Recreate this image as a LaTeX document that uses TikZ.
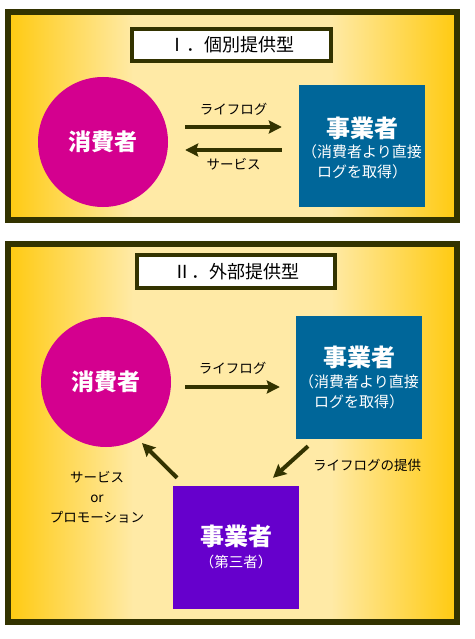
\documentclass[tikz,border=0pt]{standalone}
\usepackage{fontspec}
\setmainfont{Noto Sans CJK JP}
\usetikzlibrary{arrows.meta}
\definecolor{dark}{HTML}{333300}
\definecolor{goldedge}{HTML}{FFCA10}
\definecolor{goldmid}{HTML}{FFEAA6}
\definecolor{cmag}{HTML}{D4008F}
\definecolor{cblue}{HTML}{006699}
\definecolor{cpurple}{HTML}{6600CC}
\pgfdeclarehorizontalshading{panelshade}{100bp}{color(0bp)=(goldedge); color(25bp)=(goldedge); color(39bp)=(goldmid); color(61bp)=(goldmid); color(75bp)=(goldedge); color(100bp)=(goldedge)}
\tikzset{
  panel/.style={draw=dark,line width=6pt,shading=panelshade},
  titlebox/.style={draw=dark,line width=4pt,fill=white,inner sep=0pt,font=\fontsize{18}{22}\selectfont},
  consumer/.style={circle,fill=cmag,minimum size=130pt,inner sep=0pt,text=white,font=\bfseries\fontsize{23}{28}\selectfont},
  bizbox/.style={rectangle,fill=cblue,minimum width=126pt,minimum height=122pt,inner sep=0pt},
  thirdbox/.style={rectangle,fill=cpurple,minimum width=126pt,minimum height=123pt,inner sep=0pt},
  bigtxt/.style={text=white,inner sep=0pt,font=\bfseries\fontsize{24}{28}\selectfont},
  subtxt/.style={text=white,inner sep=0pt,align=center,font=\fontsize{15}{20}\selectfont},
  lbl/.style={inner sep=0pt,align=center,font=\fontsize{13.5}{20}\selectfont},
  arr/.style={draw=dark,line width=4pt,-{Stealth[length=13pt,width=13pt,inset=2pt]}}
}
\begin{document}
\begin{tikzpicture}[x=1pt,y=-1pt]
\useasboundingbox (0,0) rectangle (474,639);
\fill[white] (0,0) rectangle (474,639);
% ---- Panel I ----
\shade[panel] (7.5,12) rectangle (456.5,220);
\draw[dark,line width=6pt] (7.5,12) rectangle (456.5,220);
\node[titlebox,minimum width=199pt,minimum height=32pt] (t1) at (231.5,45) {Ⅰ．個別提供型};
\node[consumer] (c1) at (103,142) {消費者};
\node[bizbox] (b1) at (362,146) {};
\node[bigtxt] (b1a) at ([yshift=18pt]b1.center) {事業者};
\node[subtxt] (b1b) at ([yshift=-16pt]b1.center) {（消費者より直接\\ログを取得）};
\draw[arr] ([shift={(17,-15)}]c1.east) -- node[lbl,pos=.5,yshift=18pt] (l1) {ライフログ} ([shift={(-17,-19)}]b1.west);
\draw[arr] ([shift={(-17,4)}]b1.west) -- node[lbl,pos=.5,yshift=-14pt] (l2) {サービス} ([shift={(17,8)}]c1.east);
% ---- Panel II ----
\shade[panel] (7.5,244) rectangle (456.5,622);
\draw[dark,line width=6pt] (7.5,244) rectangle (456.5,622);
\node[titlebox,minimum width=198pt,minimum height=33pt] (t2) at (236,271.5) {Ⅱ．外部提供型};
\node[consumer] (c2) at (106,382) {消費者};
\node[bizbox,minimum height=123pt] (b2) at (359,377.5) {};
\node[bigtxt] (b2a) at ([yshift=20pt]b2.center) {事業者};
\node[subtxt] (b2b) at ([yshift=-14pt]b2.center) {（消費者より直接\\ログを取得）};
\node[thirdbox] (b3) at (236,547.5) {};
\node[bigtxt] (b3a) at ([yshift=11pt]b3.center) {事業者};
\node[text=white,inner sep=0pt,font=\fontsize{14.5}{16}\selectfont] (b3b) at ([yshift=-14pt]b3.center) {（第三者）};
\draw[arr] ([shift={(14,5)}]c2.east) -- node[lbl,pos=.5,yshift=19pt] (l3) {ライフログ} ([shift={(-16,9.5)}]b2.west);
\draw[arr] ([shift={(-51,7)}]b2.south) -- ([shift={(37,-8)}]b3.north);
\node[lbl] (l4) at (367,465) {ライフログの提供};
\draw[arr] ([shift={(-59,-8)}]b3.north) -- ([shift={(36,61)}]c2.center);
\node[lbl] (l5) at (97,497) {サービス\\or\\プロモーション};
\end{tikzpicture}
\end{document}
